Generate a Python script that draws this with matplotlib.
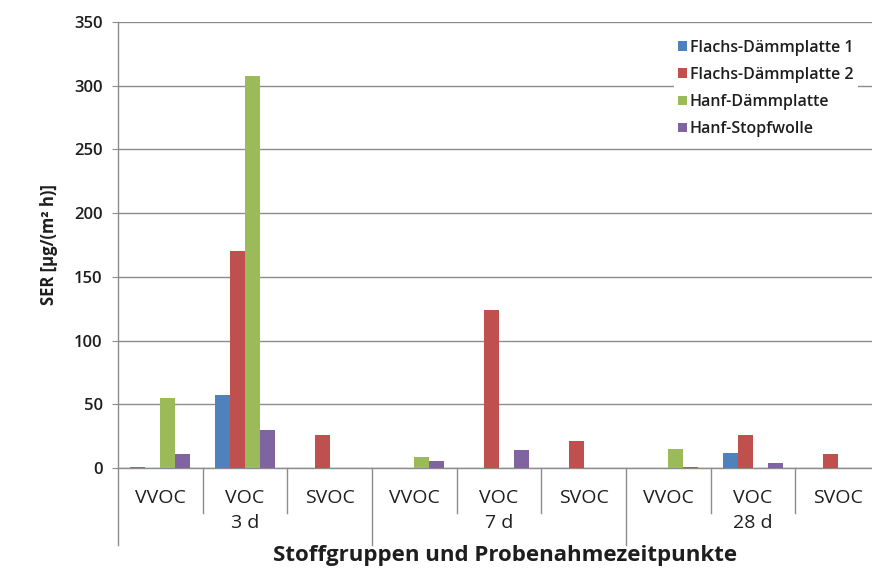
import matplotlib
matplotlib.use("Agg")
import matplotlib.pyplot as plt
import matplotlib.transforms as mtransforms
import numpy as np

plt.rcParams['font.family'] = ['Open Sans', 'DejaVu Sans']

categories = ["VVOC", "VOC", "SVOC", "VVOC", "VOC", "SVOC", "VVOC", "VOC", "SVOC"]
groups = ["3 d", "7 d", "28 d"]
series_names = ["Flachs-Dämmplatte 1", "Flachs-Dämmplatte 2", "Hanf-Dämmplatte", "Hanf-Stopfwolle"]
flachs1 = [1, 57, 0, 0, 0, 0, 0, 11.5, 0]
flachs2 = [0, 170, 26, 0, 124, 21, 0, 26, 11]
hanf_platte = [55, 308, 0, 8.5, 0, 0, 15, 0, 0]
hanf_stopf = [11, 30, 0, 5.5, 14, 0, 1, 4, 0]
series = [flachs1, flachs2, hanf_platte, hanf_stopf]
colors = ["#4F81BD", "#C0504D", "#9BBB59", "#8064A2"]
yticks = [0, 50, 100, 150, 200, 250, 300, 350]

TXT = "#1e1e1e"
W, H = 872, 571
fig = plt.figure(figsize=(W / 100, H / 100), dpi=100)
left, right, top, bottom = 118, 880, 22, 468
ax = fig.add_axes([left / W, (H - bottom) / H, (right - left) / W, (bottom - top) / H])

x = np.arange(len(categories))
bw = 0.177
for i, (vals, c, name) in enumerate(zip(series, colors, series_names)):
    ax.bar(x + (i - 1.5) * bw, vals, width=bw, color=c, label=name, zorder=3)

ax.set_xlim(-0.5, len(categories) - 0.5)
ax.set_ylim(0, 350)
ax.set_yticks(yticks)
ax.yaxis.grid(True, color="#8c8c8c", linewidth=1.0, zorder=0)
ax.set_axisbelow(True)
for s in ["top", "right"]:
    ax.spines[s].set_visible(False)
for s in ["left", "bottom"]:
    ax.spines[s].set_color("#8c8c8c")
    ax.spines[s].set_linewidth(1.0)
ax.tick_params(axis="y", length=4, color="#8c8c8c", labelsize=12, pad=7, labelcolor=TXT)
for t in ax.get_yticklabels():
    t.set_fontweight("semibold")
ax.set_xticks([])

trans = mtransforms.blended_transform_factory(ax.transData, ax.transAxes)
ph = bottom - top
short_y = -(513 - bottom) / ph
long_y = -(545 - bottom) / ph
for k in range(len(categories) + 1):
    xp = k - 0.5
    yend = long_y if k % 3 == 0 else short_y
    ax.plot([xp, xp], [0, yend], transform=trans, color="#8c8c8c", lw=1.0, clip_on=False)

cat_y = -(498 - bottom) / ph
for xi, lab in zip(x, categories):
    ax.text(xi, cat_y, lab, transform=trans, ha="center", va="center", fontsize=14, color=TXT)
grp_y = -(523 - bottom) / ph
for gi, g in enumerate(groups):
    ax.text(gi * 3 + 1, grp_y, g, transform=trans, ha="center", va="center", fontsize=14, color=TXT)

fig.text(505 / W, 1 - 556 / H, "Stoffgruppen und Probenahmezeitpunkte", ha="center", va="center",
         fontsize=16, fontweight="bold", color=TXT)
ax.set_ylabel("SER [µg/(m² h)]", fontsize=12, fontweight="bold", color=TXT, labelpad=12)

leg = ax.legend(loc="upper right", bbox_to_anchor=(866 / W, 1 - 27 / H), bbox_transform=fig.transFigure,
                frameon=True, fancybox=False, edgecolor="none", facecolor="white", framealpha=1.0,
                fontsize=11.5, handlelength=0.55, handleheight=0.55, handletextpad=0.15, labelspacing=0.7,
                borderpad=0.3)
for t in leg.get_texts():
    t.set_color(TXT)
    t.set_fontweight("semibold")
leg.set_zorder(5)

fig.savefig("out.png", dpi=100)
